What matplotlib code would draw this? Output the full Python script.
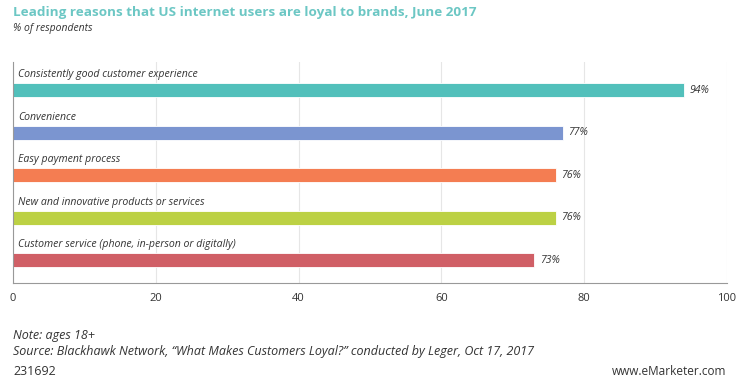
import matplotlib.pyplot as plt

plt.rcParams["font.family"] = ["Open Sans", "DejaVu Sans"]

reasons = [
    "Consistently good customer experience",
    "Convenience",
    "Easy payment process",
    "New and innovative products or services",
    "Customer service (phone, in-person or digitally)",
]
values = [94, 77, 76, 76, 73]
colors = ["#52c0bb", "#7b95d0", "#f47d52", "#bcd144", "#d05f66"]
ticks = [0, 20, 40, 60, 80, 100]

fig = plt.figure(figsize=(7.47, 3.83), dpi=100)
ax = fig.add_axes([0.0174, 0.261, 0.9558, 0.577])

pos = list(range(len(reasons)))
ax.barh(pos, values, height=0.33, color=colors, edgecolor="white", linewidth=0.6, zorder=3)

for i, (r, v) in enumerate(zip(reasons, values)):
    ax.text(0.7, i - 0.36, r, va="center", ha="left", fontsize=7.6, style="italic", color="#333333")
    ax.text(v + 0.8, i, f"{v}%", va="center", ha="left", fontsize=7.6, style="italic", color="#333333")

ax.set_xlim(0, 100)
ax.set_ylim(4.54, -0.66)
ax.set_xticks(ticks)
ax.set_yticks([])
ax.tick_params(axis="x", length=0, pad=7, labelsize=8, labelcolor="#333333")
ax.grid(axis="x", color="#e6e6e6", linewidth=0.8, zorder=0)
for s in ["top", "right"]:
    ax.spines[s].set_visible(False)
for s in ["left", "bottom"]:
    ax.spines[s].set_color("#999999")
    ax.spines[s].set_linewidth(0.8)
    ax.spines[s].set_zorder(5)

fig.text(0.0174, 0.967, "Leading reasons that US internet users are loyal to brands, June 2017",
         fontsize=9.7, fontweight="bold", color="#6cc7c4", va="center")
fig.text(0.0174, 0.925, "% of respondents", fontsize=7.5, style="italic", color="#333333", va="center")

fig.text(0.0174, 0.125, "Note: ages 18+", fontsize=9, style="italic", color="#333333", va="center")
fig.text(0.0174, 0.083, "Source: Blackhawk Network, \u201cWhat Makes Customers Loyal?\u201d conducted by Leger, Oct 17, 2017",
         fontsize=9, style="italic", color="#333333", va="center")
fig.text(0.0174, 0.029, "231692", fontsize=9, color="#333333", va="center")
fig.text(0.973, 0.029, "www.eMarketer.com", fontsize=8.5, color="#333333", va="center", ha="right")

fig.savefig("out.png", dpi=100)
